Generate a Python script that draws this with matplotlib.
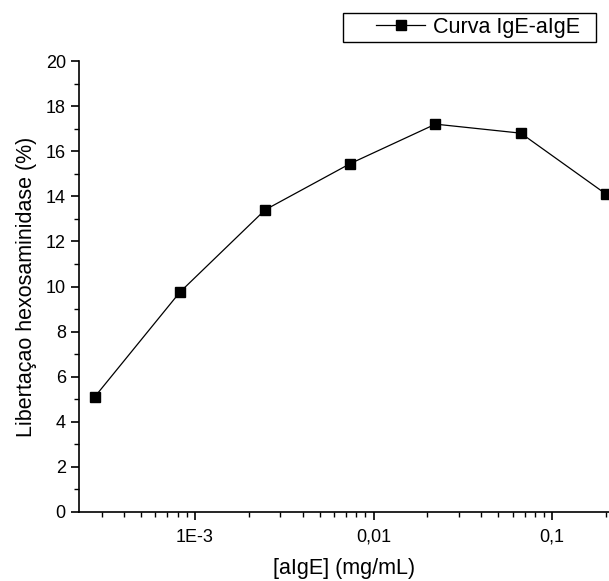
import matplotlib
matplotlib.use("Agg")
import matplotlib.pyplot as plt
from matplotlib.patches import Rectangle
from matplotlib.ticker import FixedLocator, FuncFormatter, LogLocator, MultipleLocator

plt.rcParams['font.family'] = ['Liberation Sans', 'DejaVu Sans']

conc = [0.000274, 0.000823, 0.00247, 0.0074, 0.0222, 0.0667, 0.2]
release = [5.1, 9.75, 13.4, 15.45, 17.2, 16.8, 14.1]
xtick_vals = [1e-3, 1e-2, 1e-1]
xtick_labels = ["1E-3", "0,01", "0,1"]

W, H = 609, 581
fig = plt.figure(figsize=(W/100, H/100), dpi=100)
ax = fig.add_axes([79/W, 1-512/H, 1-79/W, (512-61)/H])

ax.plot(conc, release, color='black', lw=0.9, marker='s', markersize=7.3,
        markerfacecolor='black', label='Curva IgE-aIgE', clip_on=False)
ax.set_xscale('log')
ax.set_xlim(0.000224, 0.208)
ax.set_ylim(0, 20)

ax.xaxis.set_major_locator(FixedLocator(xtick_vals))
ax.xaxis.set_major_formatter(FuncFormatter(lambda v, p: dict(zip(xtick_vals, xtick_labels)).get(v, "")))
ax.xaxis.set_minor_locator(LogLocator(base=10, subs=range(2, 10)))
ax.yaxis.set_major_locator(MultipleLocator(2))
ax.yaxis.set_minor_locator(MultipleLocator(1))

for s in ['top', 'right']:
    ax.spines[s].set_visible(False)
for s in ['left', 'bottom']:
    ax.spines[s].set_linewidth(1.2)
ax.tick_params(which='major', direction='out', length=6, width=1.2, labelsize=13)
ax.tick_params(axis='x', which='major', pad=6)
ax.tick_params(which='minor', direction='out', length=3.5, width=1.0)

ax.set_xlabel('[aIgE] (mg/mL)', fontsize=15.5, labelpad=9)
ax.set_ylabel('Libertaçao hexosaminidase (%)', fontsize=15.5, labelpad=6)

leg = fig.legend(loc='center left', bbox_to_anchor=(376/W, 1-27.5/H), fontsize=15.5,
                 frameon=False, handlelength=2.28, handletextpad=0.37,
                 numpoints=1, borderpad=0, borderaxespad=0)
fig.patches.append(Rectangle((343/W, 1-42/H), (596-343)/W, 29/H, transform=fig.transFigure,
                             fill=False, edgecolor='black', linewidth=1.0))

fig.savefig('out.png', dpi=100)
